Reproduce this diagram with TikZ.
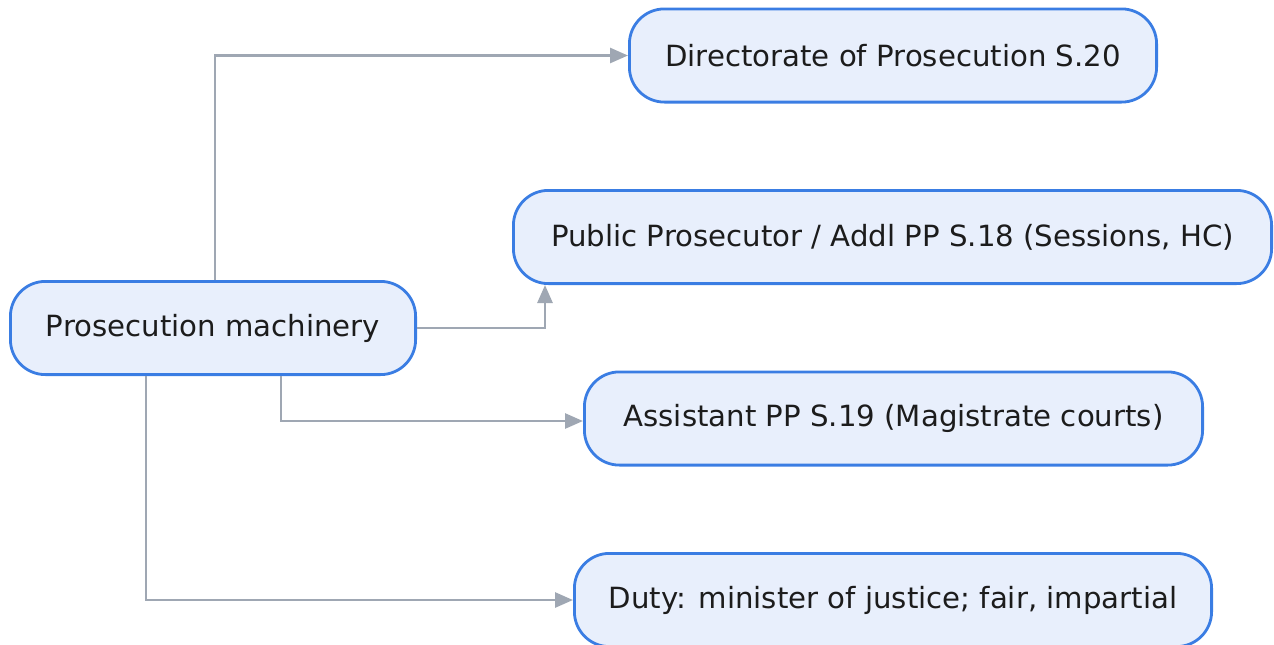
\documentclass[tikz,border=0pt]{standalone}
\usepackage{fontspec}
\setmainfont{DejaVu Sans}
\usetikzlibrary{arrows.meta}
\definecolor{boxfill}{HTML}{E8EFFC}
\definecolor{boxline}{HTML}{3A7DE3}
\definecolor{linkline}{HTML}{9FA7B3}
\definecolor{labeltext}{HTML}{1C1C1C}
\tikzset{
  topic/.style={draw=boxline, fill=boxfill, line width=2.8pt, rounded corners=35pt,
    text=labeltext, font=\fontsize{29.2}{35}\selectfont, inner sep=0pt,
    minimum width=#1, minimum height=93.2pt},
  link/.style={draw=linkline, line width=2.8pt, -{Triangle[length=18pt,width=15pt]}}
}
\begin{document}
\begin{tikzpicture}[x=1pt,y=-1pt]
  \useasboundingbox (0,0) rectangle (1274,645);
  \node[topic=405.2pt] (pm) at (213,328) {Prosecution machinery};
  \node[topic=527.2pt] (dir) at (893,55.5) {Directorate of Prosecution S.20};
  \node[topic=758.2pt] (pp) at (892.5,237) {Public Prosecutor / Addl PP S.18 (Sessions, HC)};
  \node[topic=618.2pt] (app) at (893.5,418.5) {Assistant PP S.19 (Magistrate courts)};
  \node[topic=637.2pt] (duty) at (893,600) {Duty: minister of justice; fair, impartial};

  \draw[link] ([xshift=2pt]pm.north) |- (dir.west);
  \draw[link] (pm.east) -| ([xshift=33pt]pp.south west);
  \draw[link] ([xshift=68pt]pm.south) |- ([yshift=-2.5pt]app.west);
  \draw[link] ([xshift=-67pt]pm.south) |- (duty.west);
\end{tikzpicture}
\end{document}
